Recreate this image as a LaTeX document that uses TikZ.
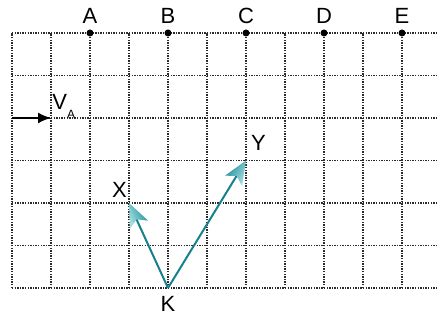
\documentclass[tikz,border=0pt]{standalone}
\usepackage{fontspec}
\setmainfont{Liberation Sans}
\usetikzlibrary{arrows.meta,calc}
\definecolor{gridgray}{HTML}{2A2A2A}
\definecolor{tealline}{HTML}{17808D}
\definecolor{tealhead}{HTML}{A6E2E4}
\definecolor{tealdark}{HTML}{1A8896}
\tikzset{
  gridline/.style={gridgray, line width=1.1pt, dash pattern=on 1.3pt off 1.3pt},
  lbl/.style={font=\fontsize{22}{26}\selectfont, inner sep=0pt},
  dotpt/.style={circle, fill=black, minimum size=7pt, inner sep=0pt},
  shaft/.style={tealline, line width=2pt},
  vel/.style={black, line width=1.8pt, -{Latex[length=13pt,width=11pt]}},
  pics/ahead/.style={code={
    \shade[top color=tealhead, bottom color=tealdark, shading angle=#1]
      (0,0) -- (-24pt,10pt) -- (-18pt,0) -- (-24pt,-10pt) -- cycle;}}
}
\begin{document}
\begin{tikzpicture}[x=39pt,y=42.5pt]
\path[use as bounding box] (-0.3077,-0.7529) rectangle (10.923,6.776);
% grid
\foreach \j in {0,...,6} \draw[gridline] (0,\j) -- (10.923,\j);
\foreach \i in {0,...,10} \draw[gridline] (\i,0) -- (\i,6);
% top points
\foreach \n/\i in {A/2,B/4,C/6,D/8,E/10} {
  \node[dotpt] (\n) at (\i,6) {};
  \node[lbl, anchor=south, yshift=9pt] (l\n) at (\i,6) {\n};
}
% velocity
\coordinate (v0) at (0,4);
\coordinate (v1) at (1,4);
\draw[vel] (v0) -- (v1);
\node[lbl, anchor=base west] (lv) at (1.03,4.21) {V\raisebox{-9pt}{\fontsize{12}{14}\selectfont A}};
% vectors
\coordinate (K) at (4,0);
\coordinate (X) at (3,2);
\coordinate (Y) at (6,3);
\draw[shaft] (K) -- ($(X)!17pt!(K)$);
\draw[shaft] (K) -- ($(Y)!17pt!(K)$);
\pic[rotate=114.6] at (X) {ahead=114.6};
\pic[rotate=58.5] at (Y) {ahead=-121.5};
\node[lbl] (lK) at (4,-0.376) {K};
\node[lbl] (lX) at (2.756,2.318) {X};
\node[lbl] (lY) at (6.32,3.42) {Y};
\end{tikzpicture}
\end{document}
